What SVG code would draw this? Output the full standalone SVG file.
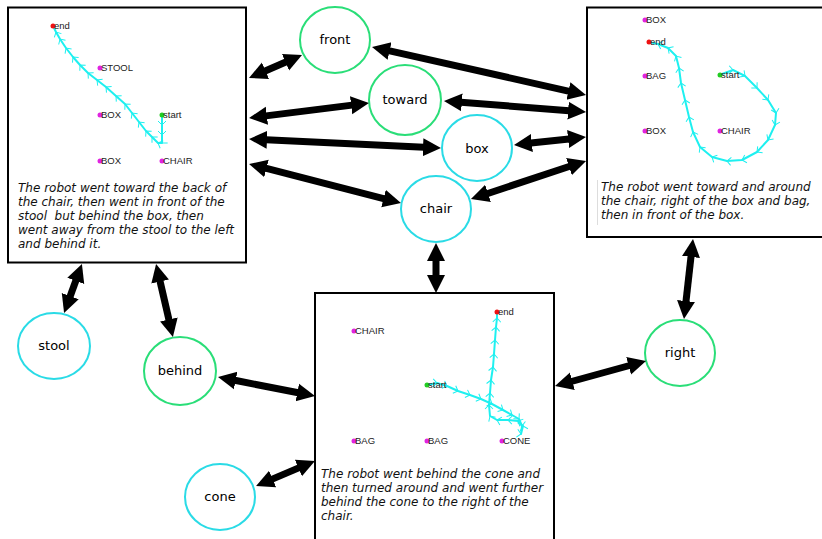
<svg xmlns="http://www.w3.org/2000/svg" width="822" height="539" viewBox="0 0 822 539">
<style>
.panel{fill:#fff;stroke:#000;stroke-width:2}
.cap{font-family:"DejaVu Sans",sans-serif;font-style:italic;font-size:12px;fill:#111}
.lbl{font-family:"Liberation Sans",Arial,sans-serif;font-size:9.5px;fill:#222}
.node{fill:#fff;stroke-width:2}
.g{stroke:#2ade78}
.c{stroke:#2adbe6}
.nt{font-family:"DejaVu Sans",sans-serif;font-size:13px;fill:#000;text-anchor:middle}
.traj{fill:none;stroke:#1ef0f0;stroke-width:2;stroke-linejoin:round;marker-mid:url(#chev)}
.obj{fill:#e024e0}
.st{fill:#22cc22}
.en{fill:#ee1111}
.arr{stroke:#000;stroke-width:7;marker-start:url(#ah);marker-end:url(#ah)}
</style>
<defs>
<marker id="ah" markerUnits="userSpaceOnUse" markerWidth="20" markerHeight="20" refX="1" refY="9.5" orient="auto-start-reverse">
<path d="M0,0.5 L18,9.5 L0,18.5 z" fill="#000"/>
</marker>
<marker id="chev" markerUnits="userSpaceOnUse" markerWidth="10" markerHeight="10" refX="5" refY="5" orient="auto">
<path d="M1,1 L5,5 L1,9" fill="none" stroke="#1ef0f0" stroke-width="1"/>
</marker>
</defs>

<g id="panel1">
<rect class="panel" x="8" y="7.5" width="238" height="255"/>
<polyline class="traj" points="162,115 162,125 162,135 162,143 158,143 152,137 146,131 139,122 132,113 125,104 116,96 106,87 97,80 88,73 80,65 73,57 66,48 60,39 56,32 53,26"/>
<circle class="en" cx="53" cy="26" r="2.5"/><text class="lbl" x="54" y="29">end</text>
<circle class="obj" cx="100" cy="68" r="2.5"/><text class="lbl" x="101" y="71">STOOL</text>
<circle class="obj" cx="100" cy="115" r="2.5"/><text class="lbl" x="101" y="118">BOX</text>
<circle class="st" cx="162" cy="115" r="2.5"/><text class="lbl" x="163" y="118">start</text>
<circle class="obj" cx="100" cy="161" r="2.5"/><text class="lbl" x="101" y="164">BOX</text>
<circle class="obj" cx="162" cy="161" r="2.5"/><text class="lbl" x="163" y="164">CHAIR</text>
<text class="cap" x="18" y="192">The robot went toward the back of</text>
<text class="cap" x="18" y="206">the chair, then went in front of the</text>
<text class="cap" x="18" y="220">stool&#160; but behind the box, then</text>
<text class="cap" x="18" y="234">went away from the stool to the left</text>
<text class="cap" x="18" y="248">and behind it.</text>
</g>

<g id="panel2">
<rect class="panel" x="587" y="7.5" width="240" height="229.5"/>
<polyline class="traj" points="722,74 733,70 745,76 757,88 768,100 776,113 775,125 768,140 757,152 742,160 727,161 712,157 700,147 693,132 689,117 685,100 681,83 679,68 676,56 668,48 658,44 649,42"/>
<circle class="obj" cx="645" cy="20" r="2.5"/><text class="lbl" x="646" y="23">BOX</text>
<circle class="en" cx="649" cy="42" r="2.5"/><text class="lbl" x="650" y="45">end</text>
<circle class="obj" cx="645" cy="76" r="2.5"/><text class="lbl" x="646" y="79">BAG</text>
<circle class="st" cx="720" cy="75" r="2.5"/><text class="lbl" x="721" y="78">start</text>
<circle class="obj" cx="645" cy="131" r="2.5"/><text class="lbl" x="646" y="134">BOX</text>
<circle class="obj" cx="720" cy="131" r="2.5"/><text class="lbl" x="721" y="134">CHAIR</text>
<line x1="597.5" y1="180" x2="597.5" y2="225" stroke="#ddd" stroke-width="1"/>
<text class="cap" x="601" y="191">The robot went toward and around</text>
<text class="cap" x="601" y="205">the chair, right of the box and bag,</text>
<text class="cap" x="601" y="219">then in front of the box.</text>
</g>

<g id="panel3">
<rect class="panel" x="315" y="293" width="239" height="250"/>
<polyline class="traj" points="427,385 437,383 447,386 458,391 470,395 481,399 492,404 503,410 512,415 519,419 522,426 521,434 523,426 518,421 508,420 497,420 490,416 489,405 490,393 491,380 493,367 494,354 495,340 496,327 497,318 497,312"/>
<circle class="en" cx="497" cy="312" r="2.5"/><text class="lbl" x="498" y="315">end</text>
<circle class="obj" cx="354" cy="331" r="2.5"/><text class="lbl" x="355" y="334">CHAIR</text>
<circle class="st" cx="427" cy="385" r="2.5"/><text class="lbl" x="428" y="388">start</text>
<circle class="obj" cx="354" cy="441" r="2.5"/><text class="lbl" x="355" y="444">BAG</text>
<circle class="obj" cx="427" cy="441" r="2.5"/><text class="lbl" x="428" y="444">BAG</text>
<circle class="obj" cx="502" cy="441" r="2.5"/><text class="lbl" x="503" y="444">CONE</text>
<text class="cap" x="321" y="478">The robot went behind the cone and</text>
<text class="cap" x="321" y="492">then turned around and went further</text>
<text class="cap" x="321" y="506">behind the cone to the right of the</text>
<text class="cap" x="321" y="520">chair.</text>
</g>

<g id="front"><ellipse class="node g" cx="335" cy="40" rx="35" ry="33"/><text class="nt" x="335" y="44">front</text></g>
<g id="toward"><ellipse class="node g" cx="405" cy="100" rx="36" ry="35"/><text class="nt" x="405" y="104">toward</text></g>
<g id="box"><ellipse class="node c" cx="477" cy="148" rx="35" ry="33"/><text class="nt" x="477" y="153">box</text></g>
<g id="chair"><ellipse class="node c" cx="436" cy="209" rx="35" ry="33"/><text class="nt" x="436" y="213">chair</text></g>
<g id="stool"><ellipse class="node c" cx="54" cy="346" rx="36" ry="33"/><text class="nt" x="54" y="350">stool</text></g>
<g id="behind"><ellipse class="node g" cx="180" cy="371" rx="36" ry="34"/><text class="nt" x="180" y="375">behind</text></g>
<g id="cone"><ellipse class="node c" cx="220" cy="497" rx="35" ry="33"/><text class="nt" x="220" y="501">cone</text></g>
<g id="right"><ellipse class="node g" cx="680" cy="353" rx="35" ry="33"/><text class="nt" x="680" y="357">right</text></g>

<g id="connectors">
<line class="arr" x1="264.6" y1="71.2" x2="286.4" y2="61.8"/>
<line class="arr" x1="388.6" y1="50.7" x2="569.4" y2="91.3"/>
<line class="arr" x1="265.9" y1="115.9" x2="352.1" y2="105.1"/>
<line class="arr" x1="460.9" y1="102.3" x2="569.1" y2="110.7"/>
<line class="arr" x1="266" y1="139.8" x2="424" y2="147.2"/>
<line class="arr" x1="530.9" y1="143.1" x2="569.1" y2="138.9"/>
<line class="arr" x1="265.5" y1="168.2" x2="384.5" y2="198.8"/>
<line class="arr" x1="487.1" y1="193.7" x2="569.9" y2="166.3"/>
<line class="arr" x1="436" y1="260" x2="436" y2="276"/>
<line class="arr" x1="76.1" y1="280" x2="69.9" y2="297"/>
<line class="arr" x1="159.9" y1="280.6" x2="169.1" y2="320.4"/>
<line class="arr" x1="234.7" y1="380.3" x2="298.3" y2="392.7"/>
<line class="arr" x1="271.7" y1="479.4" x2="299.3" y2="467.6"/>
<line class="arr" x1="691.1" y1="255.9" x2="685.9" y2="302.1"/>
<line class="arr" x1="571.4" y1="381.5" x2="629.6" y2="365.5"/>
</g>
</svg>
